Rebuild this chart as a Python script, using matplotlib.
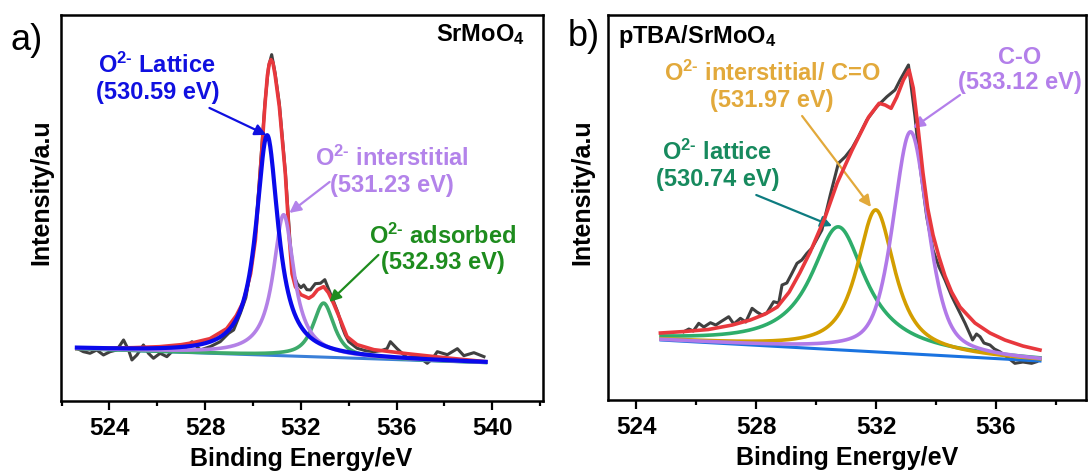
import numpy as np
import matplotlib
matplotlib.use('Agg')
import matplotlib.pyplot as plt
from matplotlib.ticker import MultipleLocator

plt.rcParams['font.family'] = ['Liberation Sans', 'DejaVu Sans']
plt.rcParams['font.weight'] = 'bold'
plt.rcParams['mathtext.fontset'] = 'custom'
plt.rcParams['mathtext.rm'] = 'Liberation Sans:bold'
plt.rcParams['mathtext.bf'] = 'Liberation Sans:bold'
plt.rcParams['mathtext.it'] = 'Liberation Sans:bold:italic'
plt.rcParams['mathtext.sf'] = 'Liberation Sans:bold'

O2 = r'O$^{2\text{-}}$'

# ---------------- a) SrMoO4 , O 1s ----------------
a_raw_E = [522.64, 522.91, 523.19, 523.47, 523.75, 524.03, 524.31, 524.59, 524.80, 524.94,
           525.15, 525.42, 525.63, 525.84, 526.12, 526.40, 526.68, 526.96, 527.24, 527.45,
           527.80, 528.21, 528.63, 528.98, 529.19, 529.47, 529.70, 529.90, 530.10, 530.30,
           530.50, 530.65, 530.78, 530.92, 531.10, 531.35, 531.55, 531.70, 531.85, 532.00,
           532.12, 532.25, 532.40, 532.60, 532.82, 533.00, 533.10, 533.37, 533.55, 533.72,
           533.85, 534.00, 534.35, 534.70, 535.05, 535.35, 535.60, 535.74, 536.02, 536.25,
           536.44, 536.86, 537.28, 537.50, 537.70, 538.12, 538.54, 538.81, 539.23, 539.65]
a_raw_I = [52.4, 49, 47.4, 50.7, 45.7, 49, 50.7, 60.7, 50.7, 40.7,
           45.7, 55.7, 47.4, 42.4, 47.4, 44, 50.7, 49, 54, 59,
           50.7, 54, 59, 67.4, 70.7, 87.4, 103, 130, 166, 232,
           298, 334, 346, 328, 297, 229, 158, 126, 117, 113,
           115.7, 111, 110.7, 117, 117.4, 121, 115, 99, 88, 74,
           66, 59, 52.4, 50, 49, 50, 52, 59, 52, 47,
           43, 45, 37.4, 42, 49, 46, 52, 45, 48, 44]

a_fit_E = [522.64, 524.0, 525.0, 526.1, 527.0, 527.5, 528.2, 528.9, 529.3, 529.6,
           529.9, 530.1, 530.3, 530.5, 530.6, 530.68, 530.75, 530.83, 530.92, 531.1,
           531.35, 531.52, 531.63, 531.77, 532.0, 532.19, 532.33, 532.5, 532.7, 532.95,
           533.15, 533.37, 533.65, 533.93, 534.35, 535.05, 536.44, 537.84, 539.72]
a_fit_I = [52, 52.5, 53, 54, 56, 58, 62, 72, 85, 99,
           127, 161, 227, 296, 325, 337, 341, 338, 326, 294,
           227, 161, 127, 114, 106, 104, 102.4, 105, 111, 114,
           108, 97, 81, 64, 56, 51, 47, 43.4, 39]

a_bg_E = [522.64, 539.72]
a_bg_I = [52, 38]

# fitted components: lattice, interstitial, adsorbed
a_center = [530.59, 531.28, 532.95]
a_height = [220, 141, 54]
a_fwhm = [1.12, 1.05, 1.05]
a_eta = [1.0, 1.0, 0.8]
a_color = ['#0A0AEB', '#B381E6', '#3DAA6B']

# ---------------- b) pTBA/SrMoO4 , O 1s ----------------
b_raw_E = [525.58, 525.75, 525.90, 526.08, 526.25, 526.47, 526.65, 526.80, 527.08, 527.25,
           527.47, 527.65, 527.86, 528.02, 528.19, 528.35, 528.58, 528.75, 528.86, 529.02,
           529.19, 529.36, 529.52, 529.69, 529.86, 530.19, 530.47, 530.74, 530.97, 531.20,
           531.41, 531.69, 532.02, 532.36, 532.63, 532.80, 533.08, 533.30, 533.47, 533.69,
           533.90, 534.10, 534.30, 534.52, 534.75, 534.97, 535.10, 535.22, 535.35, 535.47,
           535.60, 535.80, 535.95, 536.13, 536.36, 536.63, 536.90, 537.19, 537.36]
b_raw_I = [68.3, 71, 69, 76.7, 73, 77.3, 75, 78, 83.3, 76,
           81.7, 78, 91.7, 88, 85, 87, 98.3, 97, 115, 117,
           126.7, 136.7, 140, 146.7, 152, 170, 205, 236.7, 243.3, 252,
           263.3, 280, 293.3, 303.3, 310, 320, 335, 283, 233, 183,
           150, 133, 120, 104, 90, 76.7, 68, 60, 66, 63.3,
           57, 55, 51, 48.3, 43.3, 36.7, 38, 36.7, 38.3]

b_fit_E = [524.8, 525.6, 526.4, 527.2, 527.8, 528.3, 528.7, 529.1, 529.45, 529.8,
           530.3, 530.7, 531.2, 531.75, 532.1, 532.3, 532.5, 532.69, 532.91, 533.1,
           533.24, 533.4, 533.56, 533.72, 533.9, 534.1, 534.3, 534.52, 534.8, 535.3,
           535.8, 536.3, 536.9, 537.47]
b_fit_I = [67, 68.5, 70.5, 75, 80, 86, 93, 108, 127, 148,
           183, 217, 250, 283, 296.7, 295, 291.7, 303, 320, 330,
           312, 272, 228, 192, 165, 143, 124, 108, 93, 77,
           67, 60, 54, 50]

b_bg_E = [524.82, 537.47]
b_bg_I = [60, 39]

# fitted components: lattice, interstitial / C=O, C-O
b_center = [530.74, 531.99, 533.15]
b_height = [123, 142, 222]
b_fwhm = [2.2, 1.5, 1.38]
b_eta = [1.0, 0.85, 0.5]
b_color = ['#2EAD6B', '#D39E00', '#B179E8']


def pvoigt(E, c, h, w, eta):
    x = (E - c) / w
    lor = 1.0 / (1.0 + 4.0 * x ** 2)
    gau = np.exp(-4.0 * np.log(2) * x ** 2)
    return h * (eta * lor + (1 - eta) * gau)


def style_axes(ax, xlim, ylim):
    ax.set_xlim(*xlim)
    ax.set_ylim(*ylim)
    ax.set_yticks([])
    ax.xaxis.set_major_locator(MultipleLocator(4))
    ax.xaxis.set_minor_locator(MultipleLocator(2))
    ax.tick_params(axis='x', which='major', direction='out', length=6.5, width=1.6,
                   labelsize=17.5, pad=5)
    ax.tick_params(axis='x', which='minor', direction='out', length=3.5, width=1.6)
    for sp in ax.spines.values():
        sp.set_linewidth(1.8)
    ax.set_xlabel('Binding Energy/eV', fontsize=18, fontweight='bold', labelpad=5)


def arrow(ax, tail, head, color):
    ax.annotate('', xy=head, xytext=tail,
                arrowprops=dict(arrowstyle='-|>', color=color, lw=1.6,
                                mutation_scale=17, shrinkA=0, shrinkB=0))


fig = plt.figure(figsize=(10.88, 4.73), dpi=100)
ax1 = fig.add_axes([0.0557, 0.1529, 0.443, 0.8162])
ax2 = fig.add_axes([0.5588, 0.1543, 0.4392, 0.8140])

# ---- panel a
Ea = np.linspace(a_bg_E[0], a_bg_E[1], 800)
bga = np.interp(Ea, a_bg_E, a_bg_I)
ax1.plot(a_raw_E, a_raw_I, color='#404040', lw=2.2, zorder=1)
ax1.plot(a_fit_E, a_fit_I, color='#E8383D', lw=2.6, zorder=2)
ax1.plot(a_bg_E, a_bg_I, color='#3A7FD8', lw=2.2, zorder=3)
for i in [2, 1, 0]:
    ax1.plot(Ea, bga + pvoigt(Ea, a_center[i], a_height[i], a_fwhm[i], a_eta[i]),
             color=a_color[i], lw=2.6 if i else 3.0, zorder=4 + (2 - i))
style_axes(ax1, (521.96, 542.1), (0, 386))

ax1.text(541.35, 366, 'SrMoO$_4$', ha='right', va='center', fontsize=17)
ax1.text(526.0, 322, O2 + ' Lattice\n(530.59 eV)', ha='center', va='center',
         fontsize=17, color='#1010E0', linespacing=1.15)
arrow(ax1, (528.18, 292.7), (530.56, 265.7), '#1010E0')
ax1.text(535.8, 229, O2 + ' interstitial\n(531.23 eV)', ha='center', va='center',
         fontsize=17, color='#B383EA', linespacing=1.15)
arrow(ax1, (533.2, 218.7), (531.52, 187.7), '#B383EA')
ax1.text(537.92, 152, O2 + ' adsorbed\n(532.93 eV)', ha='center', va='center',
         fontsize=17, color='#1E8C1E', linespacing=1.15)
arrow(ax1, (535.24, 145.7), (533.19, 98.7), '#1E8C1E')

# ---- panel b
Eb = np.linspace(b_bg_E[0], b_bg_E[1], 800)
bgb = np.interp(Eb, b_bg_E, b_bg_I)
ax2.plot(b_raw_E, b_raw_I, color='#404040', lw=2.2, zorder=1)
ax2.plot(b_bg_E, b_bg_I, color='#1A73E0', lw=2.2, zorder=2)
for i in [0, 2, 1]:
    ax2.plot(Eb, bgb + pvoigt(Eb, b_center[i], b_height[i], b_fwhm[i], b_eta[i]),
             color=b_color[i], lw=2.6, zorder=3 + i)
ax2.plot(b_fit_E, b_fit_I, color='#E8383D', lw=2.6, zorder=7)
style_axes(ax2, (523.05, 539.0), (0, 385))

ax2.text(523.37, 363, 'pTBA/SrMoO$_4$', ha='left', va='center', fontsize=17)
ax2.text(536.8, 330, 'C-O\n(533.12 eV)', ha='center', va='center',
         fontsize=17, color='#B37FEA', linespacing=1.15)
arrow(ax2, (534.8, 305), (533.23, 272), '#B37FEA')
ax2.text(528.53, 313.5, O2 + ' interstitial/ C=O\n(531.97 eV)', ha='center', va='center',
         fontsize=17, color='#E2A93B', linespacing=1.15)
arrow(ax2, (529.53, 284), (531.83, 193), '#E2A93B')
ax2.text(526.7, 234.5, O2 + ' lattice\n(530.74 eV)', ha='center', va='center',
         fontsize=17, color='#178A5E', linespacing=1.15)
arrow(ax2, (528.0, 205), (530.53, 174), '#0E7C80')

# y labels and panel letters
fig.text(41 / 1088, 1 - 192 / 473, 'Intensity/a.u', rotation=90, ha='center', va='center',
         fontsize=18, fontweight='bold')
fig.text(582 / 1088, 1 - 192 / 473, 'Intensity/a.u', rotation=90, ha='center', va='center',
         fontsize=18, fontweight='bold')
fig.text(27 / 1088, 1 - 40 / 473, 'a)', ha='center', va='center', fontsize=26,
         fontweight='normal')
fig.text(584 / 1088, 1 - 36 / 473, 'b)', ha='center', va='center', fontsize=26,
         fontweight='normal')

fig.savefig('out.png', dpi=100)
